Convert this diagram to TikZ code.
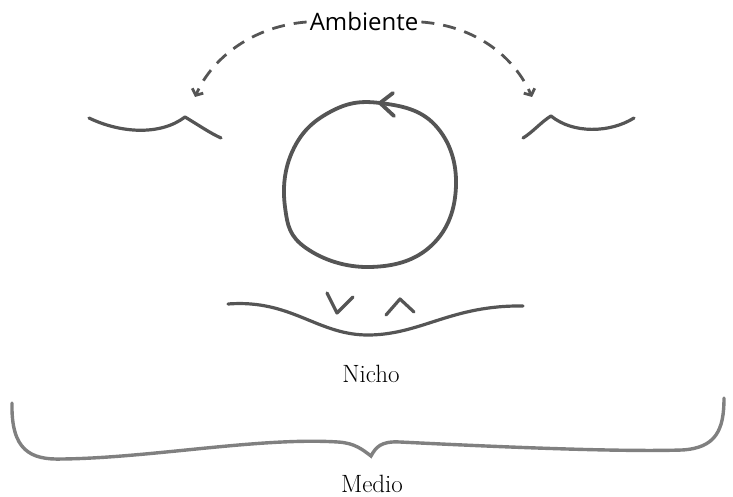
\documentclass[tikz,border=0pt]{standalone}
\usepackage{fontspec}
\usepackage{tikz}
\usetikzlibrary{arrows.meta,positioning,calc}
\newfontfamily\ambfont{Open Sans}
\definecolor{nichoInk}{HTML}{555555}
\definecolor{medioInk}{HTML}{808080}

\tikzset{
  ink/.style={draw=nichoInk,line width=3.2pt,line cap=round,line join=round},
  dashlink/.style={draw=nichoInk,line width=2.8pt,dash pattern=on 13pt off 9pt,
                   -{Straight Barb[length=5pt,width=12pt,line width=2.8pt]}},
  bracestroke/.style={draw=medioInk,line width=3.4pt,line cap=round}
}

\begin{document}
\begin{tikzpicture}[x=1pt,y=-1pt,font=\fontsize{25}{28}\selectfont]
  \useasboundingbox (0,0) rectangle (733,497);
  \node[font=\ambfont\fontsize{24}{28}\selectfont,inner sep=3pt,anchor=base] (ambiente) at (364,31) {Ambiente};
  \node[anchor=base,inner sep=1pt] (nicho) at (371,382) {Nicho};
  \node[anchor=base,inner sep=0pt] (medio) at (372,492) {Medio};
  \coordinate (lend) at (195,97);
  \coordinate (rend) at (532,97);
  % ambiente
  \draw[dashlink] (ambiente.west) .. controls (255,26) and (213,56) .. (lend);
  \draw[dashlink] (ambiente.east) .. controls (475,26) and (514,56) .. (rend);
  % shores
  \draw[ink] (89,118) .. controls (120,133) and (160,136) .. (185,117)
             .. controls (200,126) and (210,133) .. (221,138);
  \draw[ink] (523,138) .. controls (533,132) and (541,122) .. (551,116)
             .. controls (573,134) and (610,133) .. (634,118);
  % organismo
  \draw[ink,line width=3.8pt] plot[smooth cycle,tension=0.7] coordinates
        {(380,103) (435,125) (456,185) (432,245) (370,267) (306,248) (285,207) (293,150) (330,112)};
  \draw[ink,line width=3.8pt] (393,93) -- (380,103) -- (394,116);
  % nicho
  \draw[ink] (228,304) .. controls (292,299) and (318,336) .. (370,335)
             .. controls (422,334) and (452,305) .. (523,306);
  \draw[ink] (327,293) -- (337,313) -- (353,297);
  \draw[ink] (386,315) -- (400,299) -- (414,312);
  % medio
  \draw[bracestroke] (12,403) .. controls (11,450) and (30,460) .. (62,459)
        .. controls (150,458) and (260,437) .. (338,442)
        .. controls (355,443) and (363,450) .. (371,456)
        .. controls (376,447) and (381,441) .. (400,442)
        .. controls (500,447) and (620,452) .. (682,450)
        .. controls (716,448) and (724,430) .. (724,398);
\end{tikzpicture}
\end{document}
